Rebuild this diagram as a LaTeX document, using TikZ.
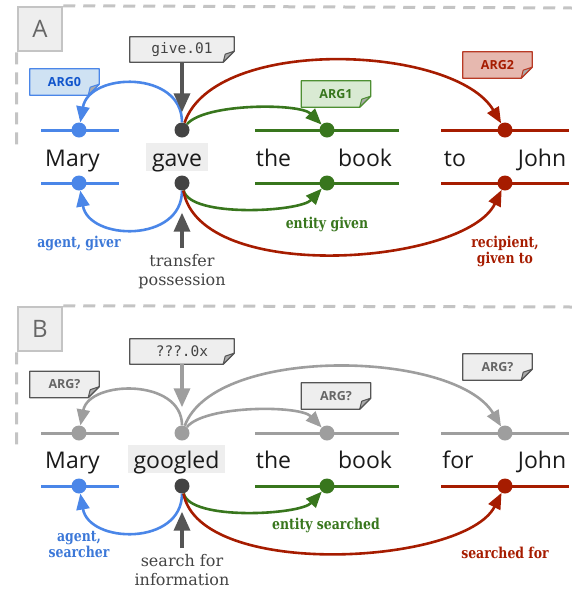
\documentclass[tikz,border=0pt]{standalone}
\usepackage{fontspec}
\setmainfont{Open Sans}
\newfontfamily\lblf[FakeStretch=0.83]{DejaVu Serif}
\newfontfamily\glossf{DejaVu Serif}
\newfontfamily\monof{DejaVu Sans Mono}
\usetikzlibrary{arrows.meta,backgrounds}
\definecolor{cblue}{HTML}{4A86E8}
\definecolor{cbluet}{HTML}{3C78D8}
\definecolor{cbluefill}{HTML}{CFE2F3}
\definecolor{cbluenote}{HTML}{1155CC}
\definecolor{cgreen}{HTML}{38761D}
\definecolor{cgreenfill}{HTML}{D9EAD3}
\definecolor{cgreenline}{HTML}{4E8F33}
\definecolor{cred}{HTML}{A61C00}
\definecolor{credfill}{HTML}{E6B8AF}
\definecolor{credline}{HTML}{B83A25}
\definecolor{cgray}{HTML}{9E9E9E}
\definecolor{cdark}{HTML}{434343}
\definecolor{carrow}{HTML}{555555}
\definecolor{cnote}{HTML}{EEEEEE}
\definecolor{cfold}{HTML}{AAAAAA}
\definecolor{cframe}{HTML}{C4C4C4}
\definecolor{c666}{HTML}{666666}
\definecolor{cword}{HTML}{1A1A1A}
\newcommand\notebg[3]{%
\begin{pgfonlayer}{background}
\filldraw[fill=#2,draw=#3,line width=1.3pt,line join=round] (#1.north west) -- (#1.north east) -- ([yshift=11pt]#1.south east) -- ([xshift=-11pt]#1.south east) -- (#1.south west) -- cycle;
\filldraw[fill=cfold,draw=#3,line width=1pt,line join=round] ([yshift=11pt]#1.south east) -- ([xshift=-11pt]#1.south east) -- ([xshift=-9pt,yshift=8pt]#1.south east) -- cycle;
\end{pgfonlayer}}
\tikzset{
 word/.style={font=\fontsize{23}{23}\selectfont,text=cword,anchor=base,inner sep=0pt},
 verb/.style={word,fill=cnote,inner xsep=6pt,inner ysep=3pt,text height=20pt,text depth=2pt},
 dotn/.style={circle,minimum size=15pt,inner sep=0pt},
 wline/.style={line width=3pt},
 link/.style={line width=2.6pt,-{Triangle[length=16pt,width=13pt]}},
 ptr/.style={line width=3.5pt,draw=carrow,-{Triangle[length=19pt,width=16pt]}},
 lbl/.style={font=\lblf\bfseries\fontsize{15}{16}\selectfont,align=center,inner sep=0pt},
 gloss/.style={font=\glossf\fontsize{16}{19}\selectfont,text=cdark,align=center,inner sep=0pt},
 notebox/.style={minimum width=69pt,minimum height=26pt,inner sep=0pt},
 sensebox/.style={minimum width=104pt,minimum height=25pt,inner sep=0pt,text=cdark,font=\monof\fontsize{14.5}{15}\selectfont},
 argf/.style={font=\bfseries\fontsize{12.5}{13}\selectfont},
 panel/.style={draw=cframe,fill=cnote,line width=2.5pt,minimum size=44pt,inner sep=0pt,text=c666,font=\fontsize{24}{24}\selectfont},
 frame/.style={draw=cframe,line width=3pt,dash pattern=on 12pt off 8pt},
}
\begin{document}
\begin{tikzpicture}[x=1pt,y=-1pt]
\useasboundingbox (0,0) rectangle (572,590);
% ================= Panel A =================
\node[panel] (pA) at (40,29) {A};
\coordinate (Aend) at (572,8);
\coordinate (Abot) at (16.5,150);
\draw[frame] (pA.north east) -- (Aend);
\draw[frame] (pA.south west) -- (Abot);
% word lines
\draw[wline,cblue] (41,130) -- (119,130);
\draw[wline,cblue] (41,183) -- (119,183);
\draw[wline,cgreen] (255,130) -- (399,130);
\draw[wline,cgreen] (255,183) -- (399,183);
\draw[wline,cred] (441,130) -- (569,130);
\draw[wline,cred] (441,183) -- (569,183);
% dots
\node[dotn,fill=cblue] (Amt) at (79,130) {};
\node[dotn,fill=cblue] (Amb) at (79,183) {};
\node[dotn,fill=cdark] (Agt) at (182,130) {};
\node[dotn,fill=cdark] (Agb) at (182,183) {};
\node[dotn,fill=cgreen] (Abt) at (327,130) {};
\node[dotn,fill=cgreen] (Abb) at (327,183) {};
\node[dotn,fill=cred] (Ajt) at (505,130) {};
\node[dotn,fill=cred] (Ajb) at (505,183) {};
% words
\node[word] (wAmary) at (72.5,166) {Mary};
\node[verb] (wAgave) at (177,166) {gave};
\node[word] (wAthe) at (273.5,166) {the};
\node[word] (wAbook) at (365,166) {book};
\node[word] (wAto) at (455,166) {to};
\node[word] (wAjohn) at (542,166) {John};
% notes
\node[sensebox] (nAs) at (182,49.5) {give.01};
\notebg{nAs}{cnote}{carrow}
\node[notebox,argf,text=cbluenote] (nA0) at (64.5,82) {ARG0};
\notebg{nA0}{cbluefill}{cblue}
\node[notebox,argf,text=cgreen] (nA1) at (336,94) {ARG1};
\notebg{nA1}{cgreenfill}{cgreenline}
\node[notebox,argf,text=cred] (nA2) at (497.5,65) {ARG2};
\notebg{nA2}{credfill}{credline}
% top links
\draw[link,cblue] (Agt) .. controls +(0,-60) and +(10,-58) .. (Amt);
\draw[link,cred] (Agt) .. controls (215,35) and (455,45) .. (Ajt);
\draw[link,cgreen] (Agt) .. controls (205,103) and (300,103) .. (Abt);
% bottom links
\draw[link,cblue] (Agb) .. controls +(0,60) and +(10,58) .. (Amb);
\draw[link,cgreen] (Agb) .. controls (190,218) and (300,212) .. (Abb);
\draw[link,cred] (Agb) .. controls (200,285) and (465,265) .. (Ajb);
% pointers
\draw[ptr,shorten >=10pt] (nAs.south) -- (Agt);
\coordinate (gAt) at (182,248);
\draw[ptr,shorten >=22pt] (gAt) -- (Agb);
% labels
\node[lbl,text=cbluet,anchor=base] (lA0) at (79,247) {agent, giver};
\node[lbl,text=cgreen,anchor=base] (lA1) at (327,228) {entity given};
\node[lbl,text=cred] (lA2) at (505,251) {recipient,\\given to};
\node[gloss] (gA) at (182,271.5) {transfer\\possession};
% ================= Panel B =================
\node[panel] (pB) at (40,329) {B};
\coordinate (Bend) at (572,307);
\coordinate (Bbot) at (16.5,448);
\draw[frame] (pB.north east) -- (Bend);
\draw[frame] (pB.south west) -- (Bbot);
\draw[wline,cgray] (41,433) -- (119,433);
\draw[wline,cblue] (41,486) -- (119,486);
\draw[wline,cgray] (255,433) -- (399,433);
\draw[wline,cgreen] (255,486) -- (399,486);
\draw[wline,cgray] (441,433) -- (569,433);
\draw[wline,cred] (441,486) -- (569,486);
\node[dotn,fill=cgray] (Bmt) at (79,433) {};
\node[dotn,fill=cblue] (Bmb) at (79,486) {};
\node[dotn,fill=cgray] (Bgt) at (182,433) {};
\node[dotn,fill=cdark] (Bgb) at (182,486) {};
\node[dotn,fill=cgray] (Bbt) at (327,433) {};
\node[dotn,fill=cgreen] (Bbb) at (327,486) {};
\node[dotn,fill=cgray] (Bjt) at (505,433) {};
\node[dotn,fill=cred] (Bjb) at (505,486) {};
\node[word] (wBmary) at (72.5,468) {Mary};
\node[verb] (wBgoogled) at (176.5,468) {googled};
\node[word] (wBthe) at (273.5,468) {the};
\node[word] (wBbook) at (365,468) {book};
\node[word] (wBfor) at (458,468) {for};
\node[word] (wBjohn) at (542,468) {John};
\node[sensebox] (nBs) at (182,351.5) {???.0x};
\notebg{nBs}{cnote}{carrow}
\node[notebox,argf,text=c666] (nB0) at (64.5,384.5) {ARG?};
\notebg{nB0}{cnote}{carrow}
\node[notebox,argf,text=c666] (nB1) at (336,396) {ARG?};
\notebg{nB1}{cnote}{carrow}
\node[notebox,argf,text=c666] (nB2) at (497.5,367) {ARG?};
\notebg{nB2}{cnote}{carrow}
\draw[link,cgray] (Bgt) .. controls +(0,-55) and +(10,-53) .. (Bmt);
\draw[link,cgray] (Bgt) .. controls (215,345) and (455,350) .. (Bjt);
\draw[link,cgray] (Bgt) .. controls (205,405) and (300,405) .. (Bbt);
\draw[link,cblue] (Bgb) .. controls +(0,60) and +(10,58) .. (Bmb);
\draw[link,cgreen] (Bgb) .. controls (190,521) and (300,515) .. (Bbb);
\draw[link,cred] (Bgb) .. controls (200,580) and (465,565) .. (Bjb);
\draw[ptr,cgray,draw=cgray,shorten >=18pt] (nBs.south) -- (Bgt);
\coordinate (gBt) at (182,548);
\draw[ptr,shorten >=18pt] (gBt) -- (Bgb);
\node[lbl,text=cbluet] (lB0) at (79,544) {agent,\\searcher};
\node[lbl,text=cgreen,anchor=base] (lB1) at (326,529) {entity searched};
\node[lbl,text=cred,anchor=base] (lB2) at (505,558) {searched for};
\node[gloss] (gB) at (182,570.5) {search for\\information};
\end{tikzpicture}
\end{document}
